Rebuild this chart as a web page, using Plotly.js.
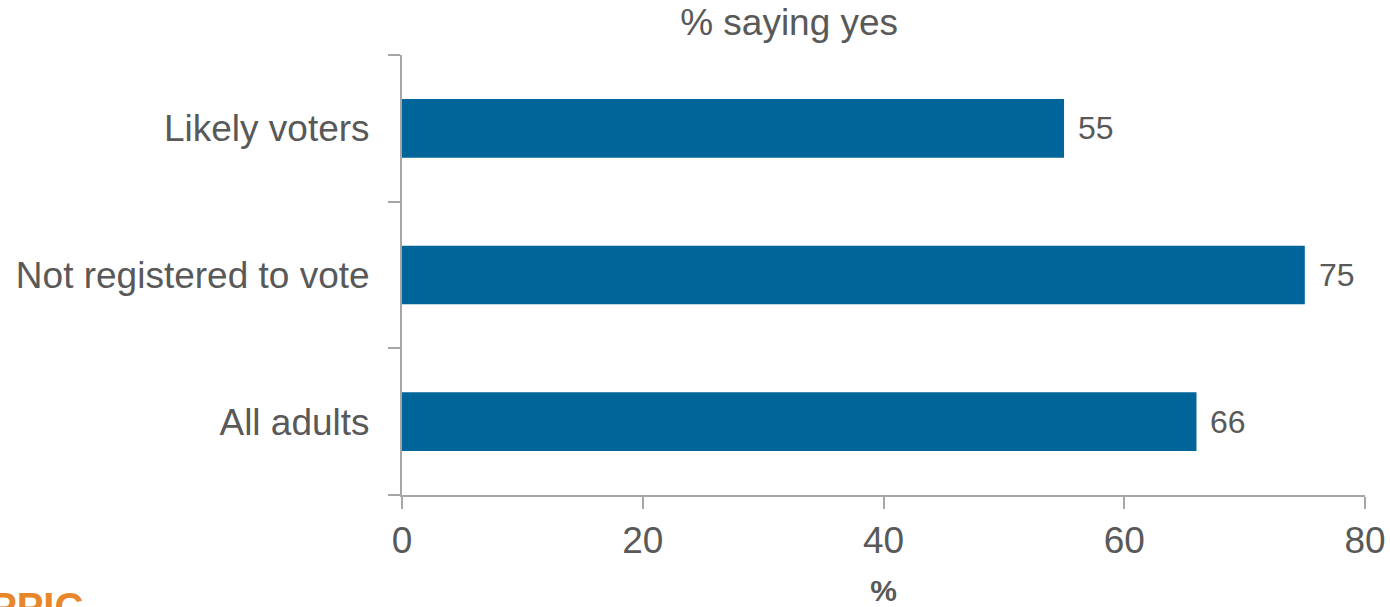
<!DOCTYPE html>
<html>
<head>
<meta charset="utf-8">
<script src="https://cdn.plot.ly/plotly-3.0.1.min.js"></script>
<style>html,body{margin:0;padding:0;background:#fff;}#chart{width:1390px;height:607px;}</style>
</head>
<body>
<div id="chart"></div>
<script>
const categories = ["All adults", "Not registered to vote", "Likely voters"];
const values = [66, 75, 55];
const xTickVals = [0, 20, 40, 60, 80];
const xTickText = ["0", "20", "40", "60", "80"];
const chartTitle = "% saying yes";
const xTitle = "%";
const logoText = "PPIC";

const textColor = "#595959";
const axisColor = "#A6A6A6";
const font = "Liberation Sans, Arial, sans-serif";

const labelAnnotations = categories.map((c, i) => ({
  x: values[i], y: c, xref: "x", yref: "y",
  text: String(values[i]), showarrow: false,
  xanchor: "left", yanchor: "middle", xshift: 12,
  font: {family: font, size: 32, color: textColor}
}));

const data = [{
  type: "bar", orientation: "h",
  x: values, y: categories,
  marker: {color: "#02659A"},
  width: 0.4,
  hoverinfo: "x+y"
}];

const layout = {
  width: 1390, height: 607,
  margin: {l: 402, r: 25, t: 55, b: 112, pad: 0},
  paper_bgcolor: "#fff", plot_bgcolor: "#fff",
  font: {family: font, color: textColor},
  showlegend: false,
  title: {
    text: chartTitle, font: {family: font, size: 37, color: textColor},
    xref: "paper", x: 0.402, xanchor: "center",
    yref: "container", y: 0.963, yanchor: "middle"
  },
  xaxis: {
    range: [0, 80], tickvals: xTickVals, ticktext: xTickText,
    showgrid: false, zeroline: false,
    showline: true, linecolor: axisColor, linewidth: 2,
    ticks: "outside", ticklen: 12, tickwidth: 2, tickcolor: axisColor,
    tickfont: {family: font, size: 37, color: textColor},
    title: {text: "<b>" + xTitle + "</b>", font: {family: font, size: 30, color: textColor}, standoff: 20},
    fixedrange: true
  },
  yaxis: {
    type: "category", categoryorder: "array", categoryarray: categories,
    range: [-0.5, 2.5],
    showgrid: false, zeroline: false,
    showline: true, linecolor: axisColor, linewidth: 2,
    ticks: "outside", tickson: "boundaries", ticklen: 12, tickwidth: 2, tickcolor: axisColor,
    tickfont: {family: font, size: 37, color: textColor},
    ticklabelstandoff: 23,
    fixedrange: true
  },
  annotations: labelAnnotations.concat([{
    xref: "paper", yref: "paper", x: -414/963, y: -88/440,
    xanchor: "left", yanchor: "top", showarrow: false,
    text: "<b>" + logoText + "</b>",
    font: {family: font, size: 40, color: "#E8862A"}
  }])
};

Plotly.newPlot("chart", data, layout, {displayModeBar: false, staticPlot: true});
</script>
</body>
</html>
